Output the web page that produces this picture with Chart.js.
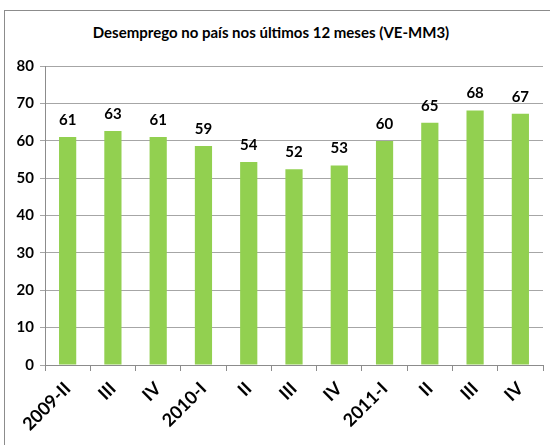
<!DOCTYPE html>
<html lang="pt">
<head>
<meta charset="UTF-8">
<title>Desemprego no país</title>
<script src="https://cdn.jsdelivr.net/npm/chart.js@4.4.0/dist/chart.umd.min.js"></script>
<style>
    html, body { margin: 0; padding: 0; background: #fff; }
    .frame {
        position: absolute;
        left: 4px; top: 10px;
        width: 600px; height: 500px;
        border: 1px solid #8c8c8c;
        box-sizing: border-box;
    }
    .title {
        position: absolute;
        left: 0; width: 542px; top: 23px;
        text-align: center;
        font: bold 15px Lato, sans-serif;
        color: #000;
    }
    .wrap { position: absolute; left: 0; top: 0; width: 550px; height: 445px; }
</style>
</head>
<body>
<div class="frame"></div>
<div class="title">Desemprego no país nos últimos 12 meses (VE-MM3)</div>
<div class="wrap"><canvas id="chart" width="550" height="445"></canvas></div>
<script>
    const categories = ['2009-II', 'III', 'IV', '2010-I', 'II', 'III', 'IV', '2011-I', 'II', 'III', 'IV'];
    const desemprego = [61.0, 62.6, 61.0, 58.6, 54.3, 52.4, 53.4, 59.9, 64.8, 68.1, 67.2];
    const yTicks = [0, 10, 20, 30, 40, 50, 60, 70, 80];

    // valores por cima das barras
    const valueLabels = {
        id: 'valueLabels',
        afterDatasetsDraw(chart) {
            const ctx = chart.ctx;
            const meta = chart.getDatasetMeta(0);
            ctx.save();
            ctx.font = 'bold 15px Lato, sans-serif';
            ctx.fillStyle = '#000';
            ctx.textAlign = 'center';
            ctx.textBaseline = 'alphabetic';
            meta.data.forEach((bar, i) => {
                ctx.fillText(Math.round(desemprego[i]), bar.x, bar.y - 12);
            });
            ctx.restore();
        }
    };

    new Chart(document.getElementById('chart'), {
        type: 'bar',
        data: {
            labels: categories,
            datasets: [{
                data: desemprego,
                backgroundColor: '#92d050',
                borderWidth: 0,
                barPercentage: 0.38,
                categoryPercentage: 1
            }]
        },
        options: {
            responsive: false,
            animation: false,
            layout: { padding: { left: 6, right: 7, top: 66, bottom: 0 } },
            plugins: {
                legend: { display: false },
                title: { display: false },
                tooltip: { enabled: false }
            },
            scales: {
                x: {
                    afterFit(scale) { scale.height = 80; },
                    grid: {
                        display: true,
                        drawOnChartArea: false,
                        drawTicks: true,
                        tickLength: 6,
                        color: '#8c8c8c',
                        offset: true
                    },
                    border: { color: '#8c8c8c', width: 1 },
                    ticks: {
                        maxRotation: 45,
                        minRotation: 45,
                        autoSkip: false,
                        padding: 7,
                        color: '#000',
                        font: { family: 'Lato, sans-serif', size: 18, weight: 'bold' }
                    }
                },
                y: {
                    min: 0,
                    max: 80,
                    afterFit(scale) { scale.width = 39; },
                    afterBuildTicks(scale) { scale.ticks = yTicks.map(v => ({ value: v })); },
                    grid: {
                        color: '#a6a6a6',
                        lineWidth: 1,
                        tickLength: 5
                    },
                    border: { color: '#8c8c8c', width: 1 },
                    ticks: {
                        padding: 6,
                        color: '#000',
                        font: { family: 'Lato, sans-serif', size: 15, weight: 'bold' }
                    }
                }
            }
        },
        plugins: [valueLabels]
    });
</script>
</body>
</html>
